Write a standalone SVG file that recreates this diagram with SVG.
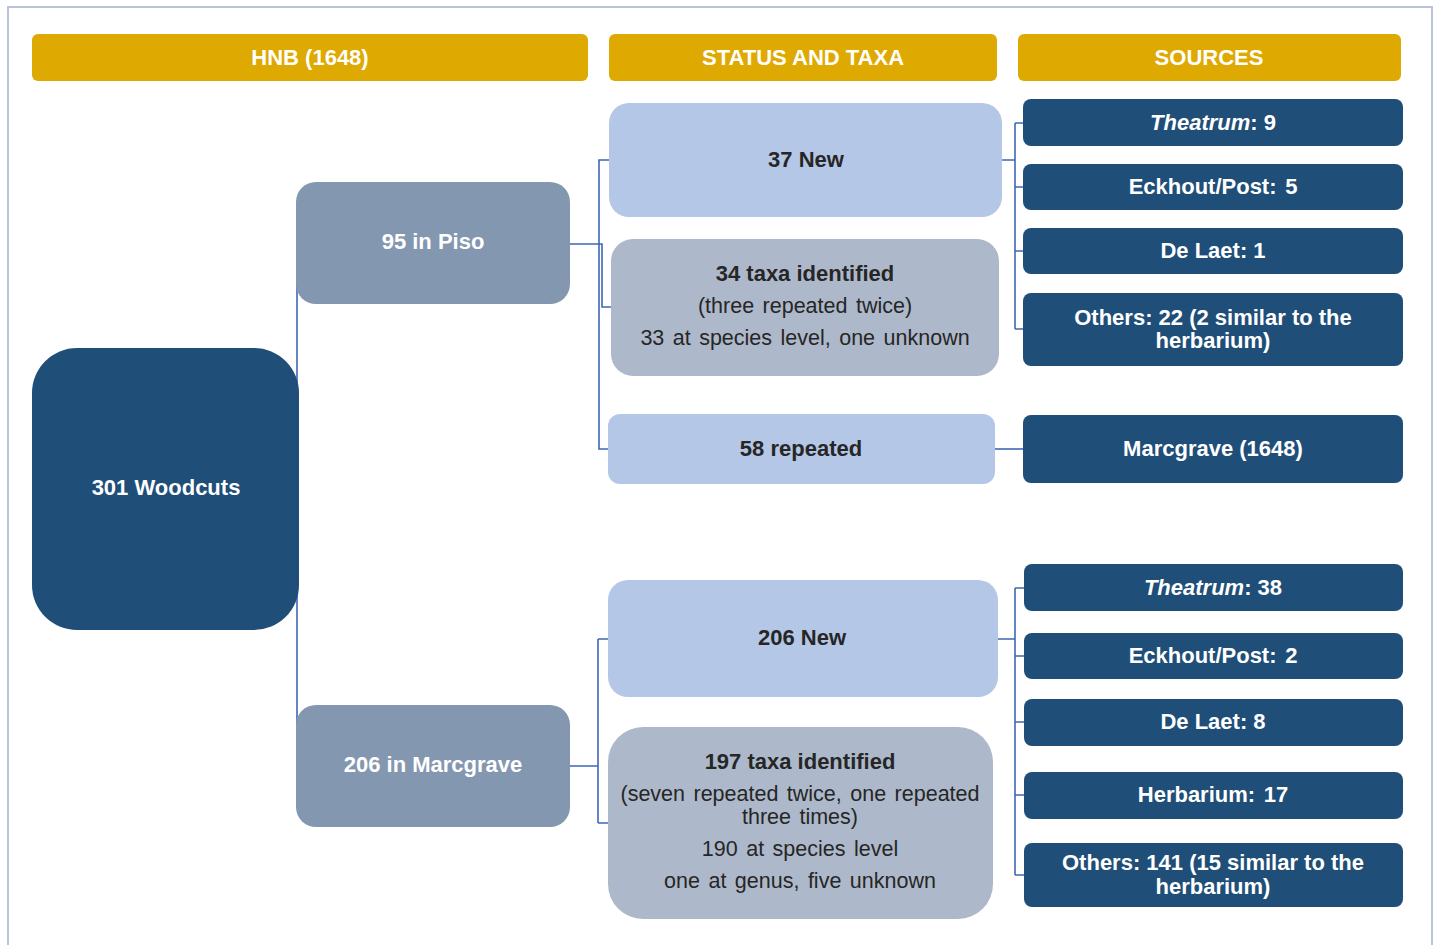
<svg xmlns="http://www.w3.org/2000/svg" width="1437" height="945" viewBox="0 0 1437 945">
<style>
text{font-family:"Liberation Sans",Arial,sans-serif;font-size:21.5px;text-anchor:middle}
.b{font-weight:bold;font-size:22px}
.w{fill:#ffffff}
.k{fill:#262626}
.r{word-spacing:2.5px}
.hdr{fill:#DEA900}
.dk{fill:#1F4E79}
.ps{fill:#8497B0}
.lb{fill:#B4C7E7}
.gb{fill:#ADB9CA}
.con{fill:none;stroke:#3F67B4;stroke-width:1.6}
</style>
<rect x="8" y="7" width="1424" height="960" fill="#ffffff" stroke="#B8C4D8" stroke-width="2"/>
<g id="headers">
<g id="h1"><rect class="hdr" x="32" y="34" width="556" height="47" rx="6"/><text class="b w" x="310" y="65">HNB (1648)</text></g>
<g id="h2"><rect class="hdr" x="609" y="34" width="388" height="47" rx="6"/><text class="b w" x="803" y="65">STATUS AND TAXA</text></g>
<g id="h3"><rect class="hdr" x="1018" y="34" width="383" height="47" rx="6"/><text class="b w" x="1209" y="65">SOURCES</text></g>
</g>
<g id="connectors">
<path class="con" d="M299,489 L297,489 M297,244 L297,766"/>
<path class="con" d="M570,244 H599 V160 H609 M599,244 V449 H608 M570,244 H602 V307 H611"/>
<path class="con" d="M570,766 H598 M598,639 V823 M598,639 H608 M598,823 H608"/>
<path class="con" d="M1002,160 H1015 M1015,123 V329 M1015,123 H1023 M1015,187 H1023 M1015,251 H1023 M1015,329 H1023"/>
<path class="con" d="M995,449 H1023"/>
<path class="con" d="M998,639 H1015 M1015,588 V875 M1015,588 H1024 M1015,656 H1024 M1015,722 H1024 M1015,795 H1024 M1015,875 H1024"/>
</g>
<g id="woodcuts"><rect class="dk" x="32" y="348" width="267" height="282" rx="45"/><text class="b w" x="166" y="495">301 Woodcuts</text></g>
<g id="piso"><rect class="ps" x="296" y="182" width="274" height="122" rx="20"/><text class="b w" x="433" y="249">95 in Piso</text></g>
<g id="marcgrave"><rect class="ps" x="296" y="705" width="274" height="122" rx="20"/><text class="b w" x="433" y="772">206 in Marcgrave</text></g>
<g id="new37"><rect class="lb" x="609" y="103" width="393" height="114" rx="20"/><text class="b k" x="806" y="167">37 New</text></g>
<g id="taxa34"><rect class="gb" x="611" y="239" width="388" height="137" rx="22"/>
<text class="b k" x="805" y="281">34 taxa identified</text>
<text class="k r" x="805" y="313">(three repeated twice)</text>
<text class="k r" x="805" y="345">33 at species level, one unknown</text></g>
<g id="rep58"><rect class="lb" x="608" y="414" width="387" height="70" rx="12"/><text class="b k" x="801" y="456">58 repeated</text></g>
<g id="new206"><rect class="lb" x="608" y="580" width="390" height="117" rx="20"/><text class="b k" x="802" y="645">206 New</text></g>
<g id="taxa197"><rect class="gb" x="608" y="727" width="385" height="192" rx="35"/>
<text class="b k" x="800" y="769">197 taxa identified</text>
<text class="k r" x="800" y="801">(seven repeated twice, one repeated</text>
<text class="k r" x="800" y="824">three times)</text>
<text class="k r" x="800" y="856">190 at species level</text>
<text class="k r" x="800" y="888">one at genus, five unknown</text></g>
<g id="s1"><rect class="dk" x="1023" y="99" width="380" height="47" rx="8"/><text class="b w" x="1213" y="130"><tspan font-style="italic">Theatrum</tspan>: 9</text></g>
<g id="s2"><rect class="dk" x="1023" y="164" width="380" height="46" rx="8"/><text class="b w r" x="1213" y="194">Eckhout/Post: 5</text></g>
<g id="s3"><rect class="dk" x="1023" y="228" width="380" height="46" rx="8"/><text class="b w" x="1213" y="258">De Laet: 1</text></g>
<g id="s4"><rect class="dk" x="1023" y="293" width="380" height="73" rx="8"/><text class="b w" x="1213" y="325">Others: 22 (2 similar to the</text><text class="b w" x="1213" y="348">herbarium)</text></g>
<g id="s5"><rect class="dk" x="1023" y="415" width="380" height="68" rx="8"/><text class="b w" x="1213" y="456">Marcgrave (1648)</text></g>
<g id="s6"><rect class="dk" x="1024" y="564" width="379" height="47" rx="8"/><text class="b w" x="1213" y="595"><tspan font-style="italic">Theatrum</tspan>: 38</text></g>
<g id="s7"><rect class="dk" x="1024" y="633" width="379" height="46" rx="8"/><text class="b w r" x="1213" y="663">Eckhout/Post: 2</text></g>
<g id="s8"><rect class="dk" x="1024" y="699" width="379" height="47" rx="8"/><text class="b w" x="1213" y="729">De Laet: 8</text></g>
<g id="s9"><rect class="dk" x="1024" y="772" width="379" height="47" rx="8"/><text class="b w r" x="1213" y="802">Herbarium: 17</text></g>
<g id="s10"><rect class="dk" x="1024" y="843" width="379" height="64" rx="8"/><text class="b w" x="1213" y="870">Others: 141 (15 similar to the</text><text class="b w" x="1213" y="894">herbarium)</text></g>
</svg>
